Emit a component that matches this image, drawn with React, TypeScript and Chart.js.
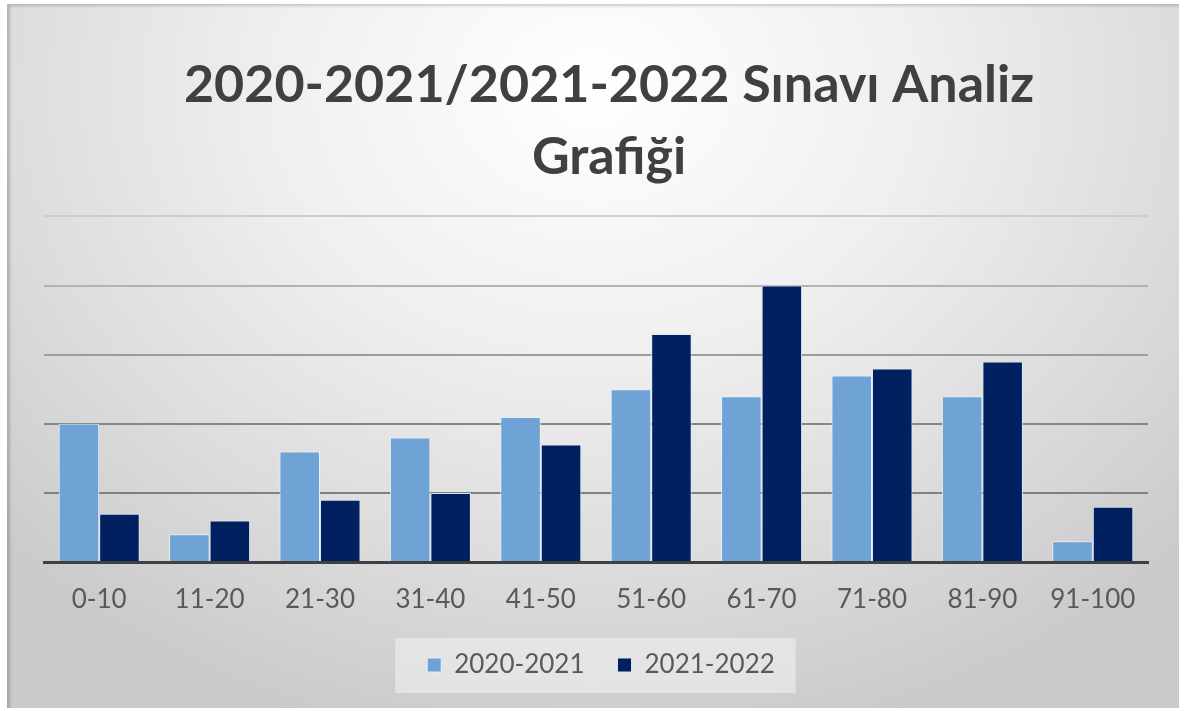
import React, { useEffect, useRef } from "react";
import { Chart, registerables } from "chart.js";

Chart.register(...registerables);

const categories = ["0-10", "11-20", "21-30", "31-40", "41-50", "51-60", "61-70", "71-80", "81-90", "91-100"];
const seriesNames = ["2020-2021", "2021-2022"];
const values2020 = [20, 4, 16, 18, 21, 25, 24, 27, 24, 3];
const values2021 = [7, 6, 9, 10, 17, 33, 40, 28, 29, 8];
const titleLines = ["2020-2021/2021-2022 Sınavı Analiz", "Grafiği"];

const gridColors: Record<number, string> = {
  50: "#cdcdcd",
  40: "#b3b3b3",
  30: "#9c9c9c",
  20: "#868686",
  10: "#808080",
  0: "#404040",
};

const legendBgPlugin = {
  id: "legendBg",
  afterLayout(chart: any) {
    const lg = chart.legend;
    if (lg) {
      lg.left += 5;
      lg.right += 5;
    }
  },
  beforeDraw(chart: any) {
    const lg = chart.legend;
    if (!lg || !lg.legendHitBoxes || !lg.legendHitBoxes.length) return;
    const hb = lg.legendHitBoxes;
    const first = hb[0];
    const last = hb[hb.length - 1];
    const left = first.left - 32;
    const right = last.left + last.width + 21;
    const top = first.top - 14;
    const bottom = first.top + first.height + 15;
    const ctx = chart.ctx;
    ctx.save();
    ctx.fillStyle = "rgba(240,240,240,0.6)";
    ctx.fillRect(left, top, right - left, bottom - top);
    ctx.restore();
  },
};

export default function App() {
  const ref = useRef<HTMLCanvasElement | null>(null);
  useEffect(() => {
    if (!ref.current) return;
    const chart = new Chart(ref.current, {
      type: "bar",
      data: {
        labels: categories,
        datasets: [
          {
            label: seriesNames[0],
            data: values2020,
            backgroundColor: "#6FA3D6",
            borderColor: "rgba(232,242,252,0.95)",
            borderWidth: 1,
          },
          {
            label: seriesNames[1],
            data: values2021,
            backgroundColor: "#002060",
            borderColor: "rgba(220,232,248,0.95)",
            borderWidth: 1,
          },
        ],
      },
      options: {
        responsive: false,
        animation: false,
        datasets: {
          bar: { barPercentage: 1.0, categoryPercentage: 0.734 },
        },
        layout: { padding: { left: 37, right: 5, top: 0, bottom: 20 } },
        plugins: {
          title: {
            display: true,
            text: titleLines,
            color: "#404040",
            font: { family: "Lato", weight: "bold", size: 52, lineHeight: 1.37 },
            padding: { top: 46, bottom: 24 },
          },
          legend: {
            display: true,
            position: "bottom",
            fullSize: false,
            labels: {
              color: "#595959",
              font: { family: "Lato", size: 26 },
              boxWidth: 14,
              boxHeight: 14,
              padding: 33,
            },
          },
          tooltip: { enabled: false },
        },
        scales: {
          x: {
            z: 1,
            grid: { display: false, drawTicks: false },
            border: { display: true, color: "#404040", width: 3 },
            ticks: {
              color: "#595959",
              font: { family: "Lato", size: 26, lineHeight: 1.5 },
              padding: 18,
              maxRotation: 0,
            },
            afterFit: (s: any) => {
              s.height = 57;
            },
          },
          y: {
            min: 0,
            max: 50,
            ticks: { display: false, stepSize: 10 },
            border: { display: false },
            grid: {
              drawTicks: false,
              lineWidth: 2,
              color: (ctx: any) => gridColors[ctx.tick ? ctx.tick.value : 0] || "#a0a0a0",
            },
            afterFit: (s: any) => {
              s.width = 0;
            },
          },
          y2: {
            position: "right",
            display: true,
            min: 0,
            max: 50,
            ticks: { display: false },
            grid: { display: false, drawTicks: false },
            border: { display: false },
            afterFit: (s: any) => {
              s.width = 26;
            },
          },
        },
      },
      plugins: [legendBgPlugin],
    });
    return () => chart.destroy();
  }, []);

  return (
    <div
      style={{
        position: "absolute",
        left: 7,
        top: 4,
        width: 1172,
        height: 704,
        background:
          "radial-gradient(ellipse 70% 95% at 50% 12%, #ffffff 0%, #efefef 40%, #dcdcdc 72%, #cacaca 100%)",
        boxShadow: "inset 3px 2px 3px rgba(0,0,0,0.18)",
      }}
    >
      <canvas ref={ref} width={1172} height={704} style={{ display: "block" }} />
    </div>
  );
}
